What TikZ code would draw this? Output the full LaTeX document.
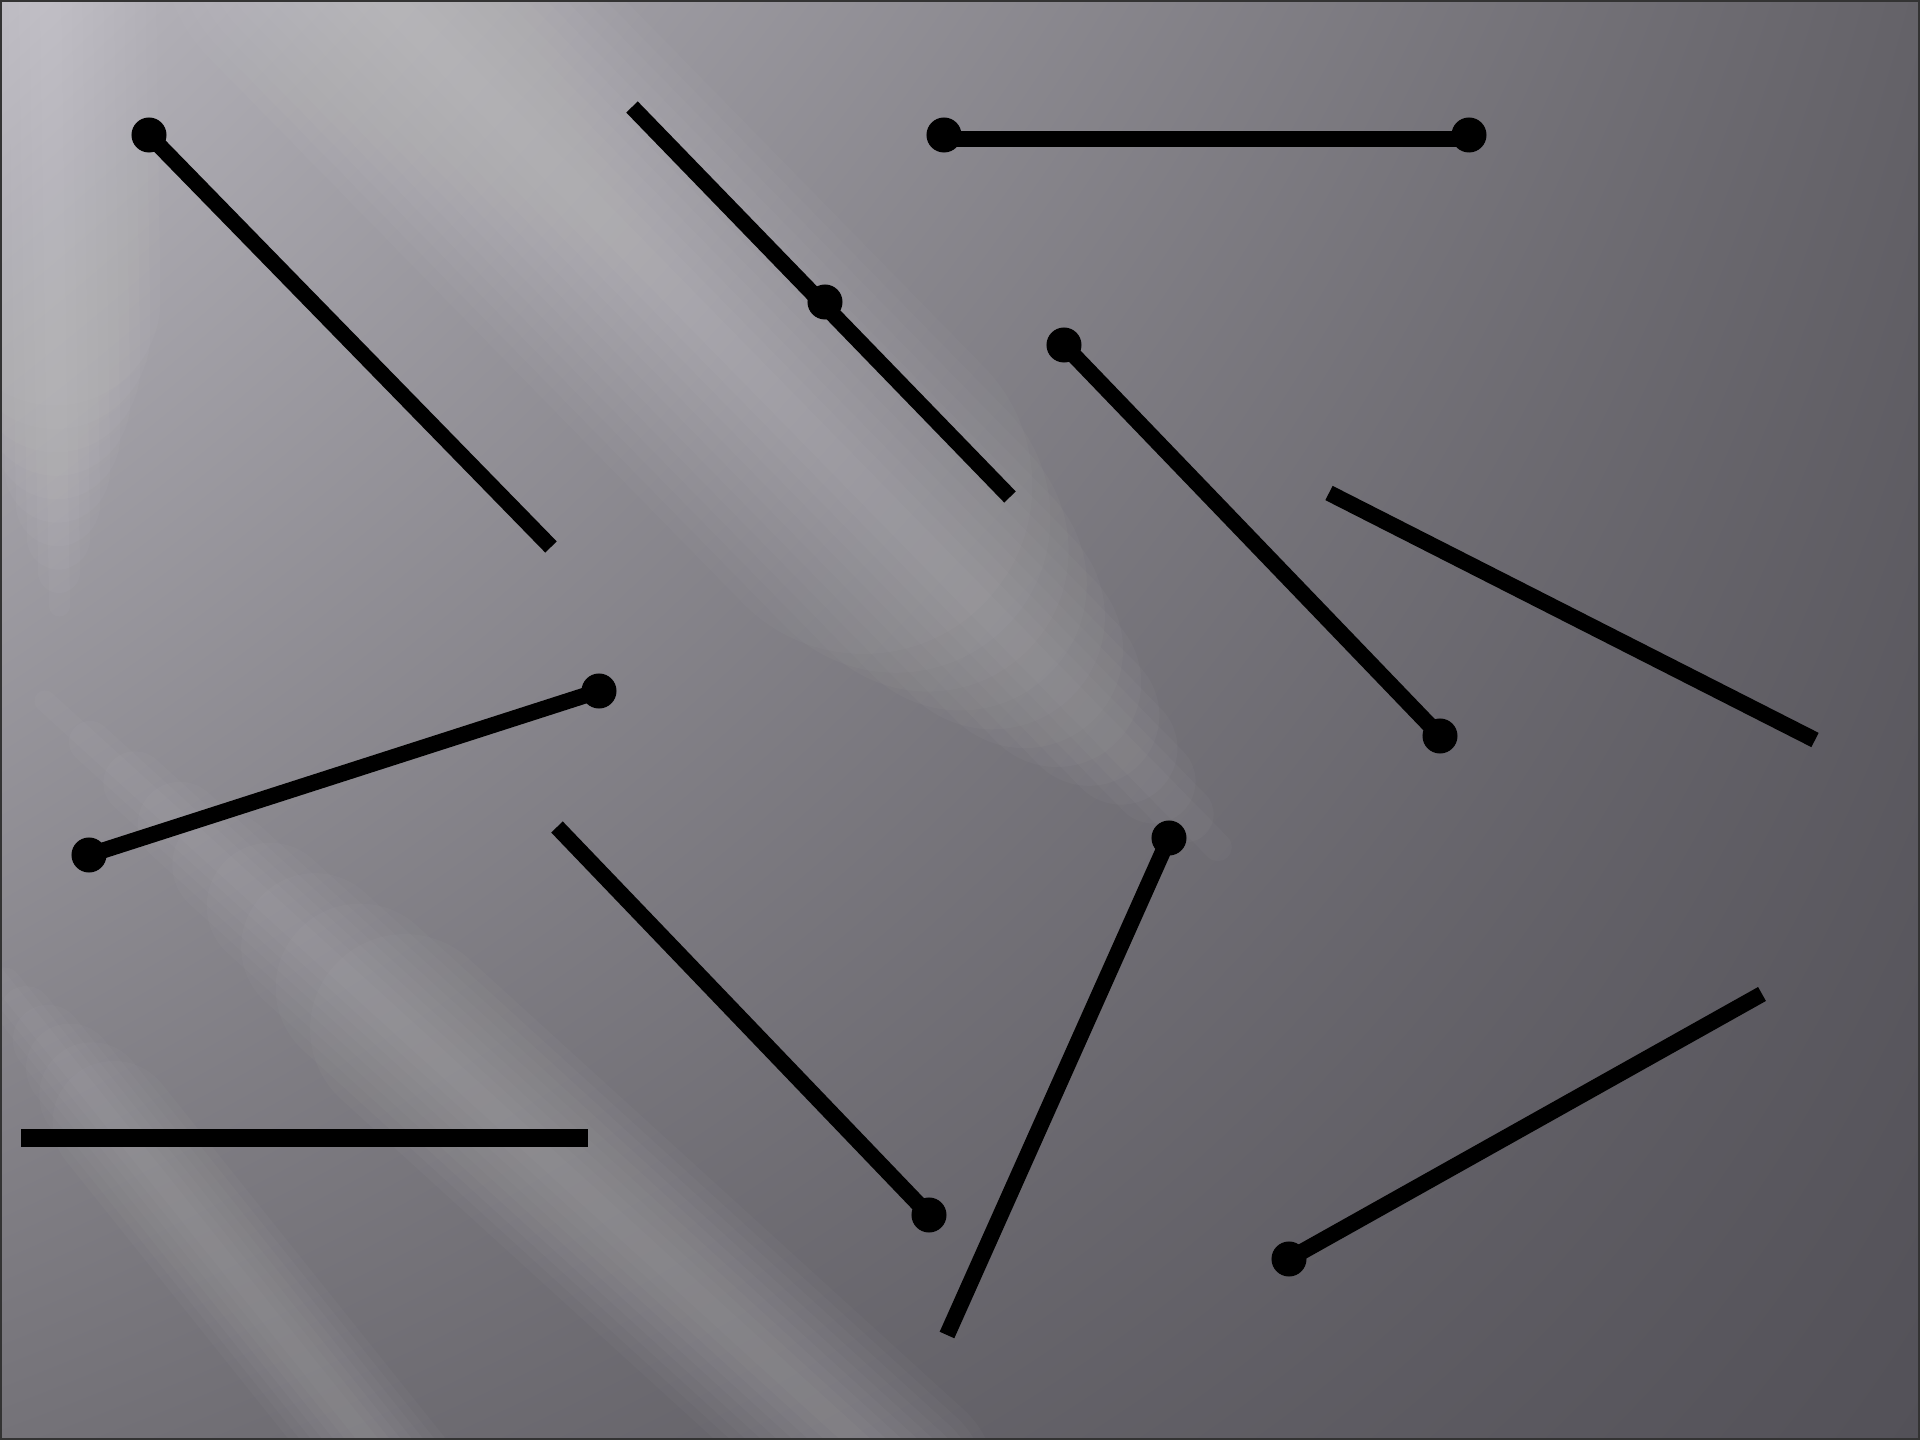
\documentclass[tikz,border=0pt]{standalone}
\usepackage{xcolor}
\usepackage{tikz}
\usetikzlibrary{shapes.geometric, shadings, calc}

\definecolor{bgTL}{RGB}{184,182,189}
\definecolor{bgTR}{RGB}{100,98,104}
\definecolor{bgBL}{RGB}{116,114,120}
\definecolor{bgBR}{RGB}{83,81,88}

\begin{document}
\begin{tikzpicture}[x=0.01cm, y=-0.01cm,
    knob/.style={circle, fill=black, inner sep=0pt, minimum size=0.35cm},
    stick/.style={line width=0.16cm, black},
    glow/.style={white, opacity=0.022, line cap=round}]
	\useasboundingbox (0,0) rectangle (1920,1440);
	\shade[upper left=bgTL, upper right=bgTR, lower left=bgBL, lower right=bgBR] (0,0) rectangle (1920,1440);
	\begin{scope}
		\clip (0,0) rectangle (1920,1440);
		\foreach \i in {1,...,12}
			\draw[glow, line width=8*\i pt] (330,-60) -- ($(330,-60)!{1-0.035*\i}!(1250,880)$);
		\foreach \i in {1,...,10}
			\draw[glow, line width=6*\i pt] (50,-40) -- ($(50,-40)!{1-0.05*\i}!(60,640)$);
		\foreach \i in {1,...,9}
			\draw[glow, line width=6*\i pt] (900,1480) -- ($(900,1480)!{1-0.05*\i}!(0,660)$);
		\foreach \i in {1,...,7}
			\draw[glow, line width=5*\i pt] (400,1480) -- ($(400,1480)!{1-0.05*\i}!(-40,930)$);
	\end{scope}
	\draw[line width=1.2pt, black!80] (0,0) rectangle (1920,1440);

	\node[knob] (d1) at (149,135) {};
	\coordinate (e1) at (551,547);
	\coordinate (e2a) at (632,107);
	\coordinate (e2b) at (1010,497);
	\node[knob] (d3a) at (944,135) {};
	\node[knob] (d3b) at (1469,135) {};
	\node[knob] (d4a) at (1064,345) {};
	\node[knob] (d4b) at (1440,736) {};
	\coordinate (e5a) at (1329,493);
	\coordinate (e5b) at (1815,740);
	\node[knob] (d6a) at (599,691) {};
	\node[knob] (d6b) at (89,855) {};
	\coordinate (e7) at (557,827);
	\node[knob] (d7) at (929,1215) {};
	\node[knob] (d8) at (1169,838) {};
	\coordinate (e8) at (947,1335);
	\coordinate (e9a) at (21,1138);
	\coordinate (e9b) at (588,1138);
	\node[knob] (d10) at (1289,1259) {};
	\coordinate (e10) at (1762,994);

	\draw[stick] (d1.center) -- (e1);
	\draw[stick] (e2a) -- (e2b);
	\node[knob] (d2) at (825,302) {};
	\draw[stick] ([yshift=-0.04cm]d3a.center) -- ([yshift=-0.04cm]d3b.center);
	\draw[stick] (d4a.center) -- (d4b.center);
	\draw[stick] (e5a) -- (e5b);
	\draw[stick] (d6a.center) -- (d6b.center);
	\draw[stick] (e7) -- (d7.center);
	\draw[stick] (d8.center) -- (e8);
	\draw[stick, line width=0.17cm] (e9a) -- (e9b);
	\draw[stick] (d10.center) -- (e10);
\end{tikzpicture}
\end{document}
